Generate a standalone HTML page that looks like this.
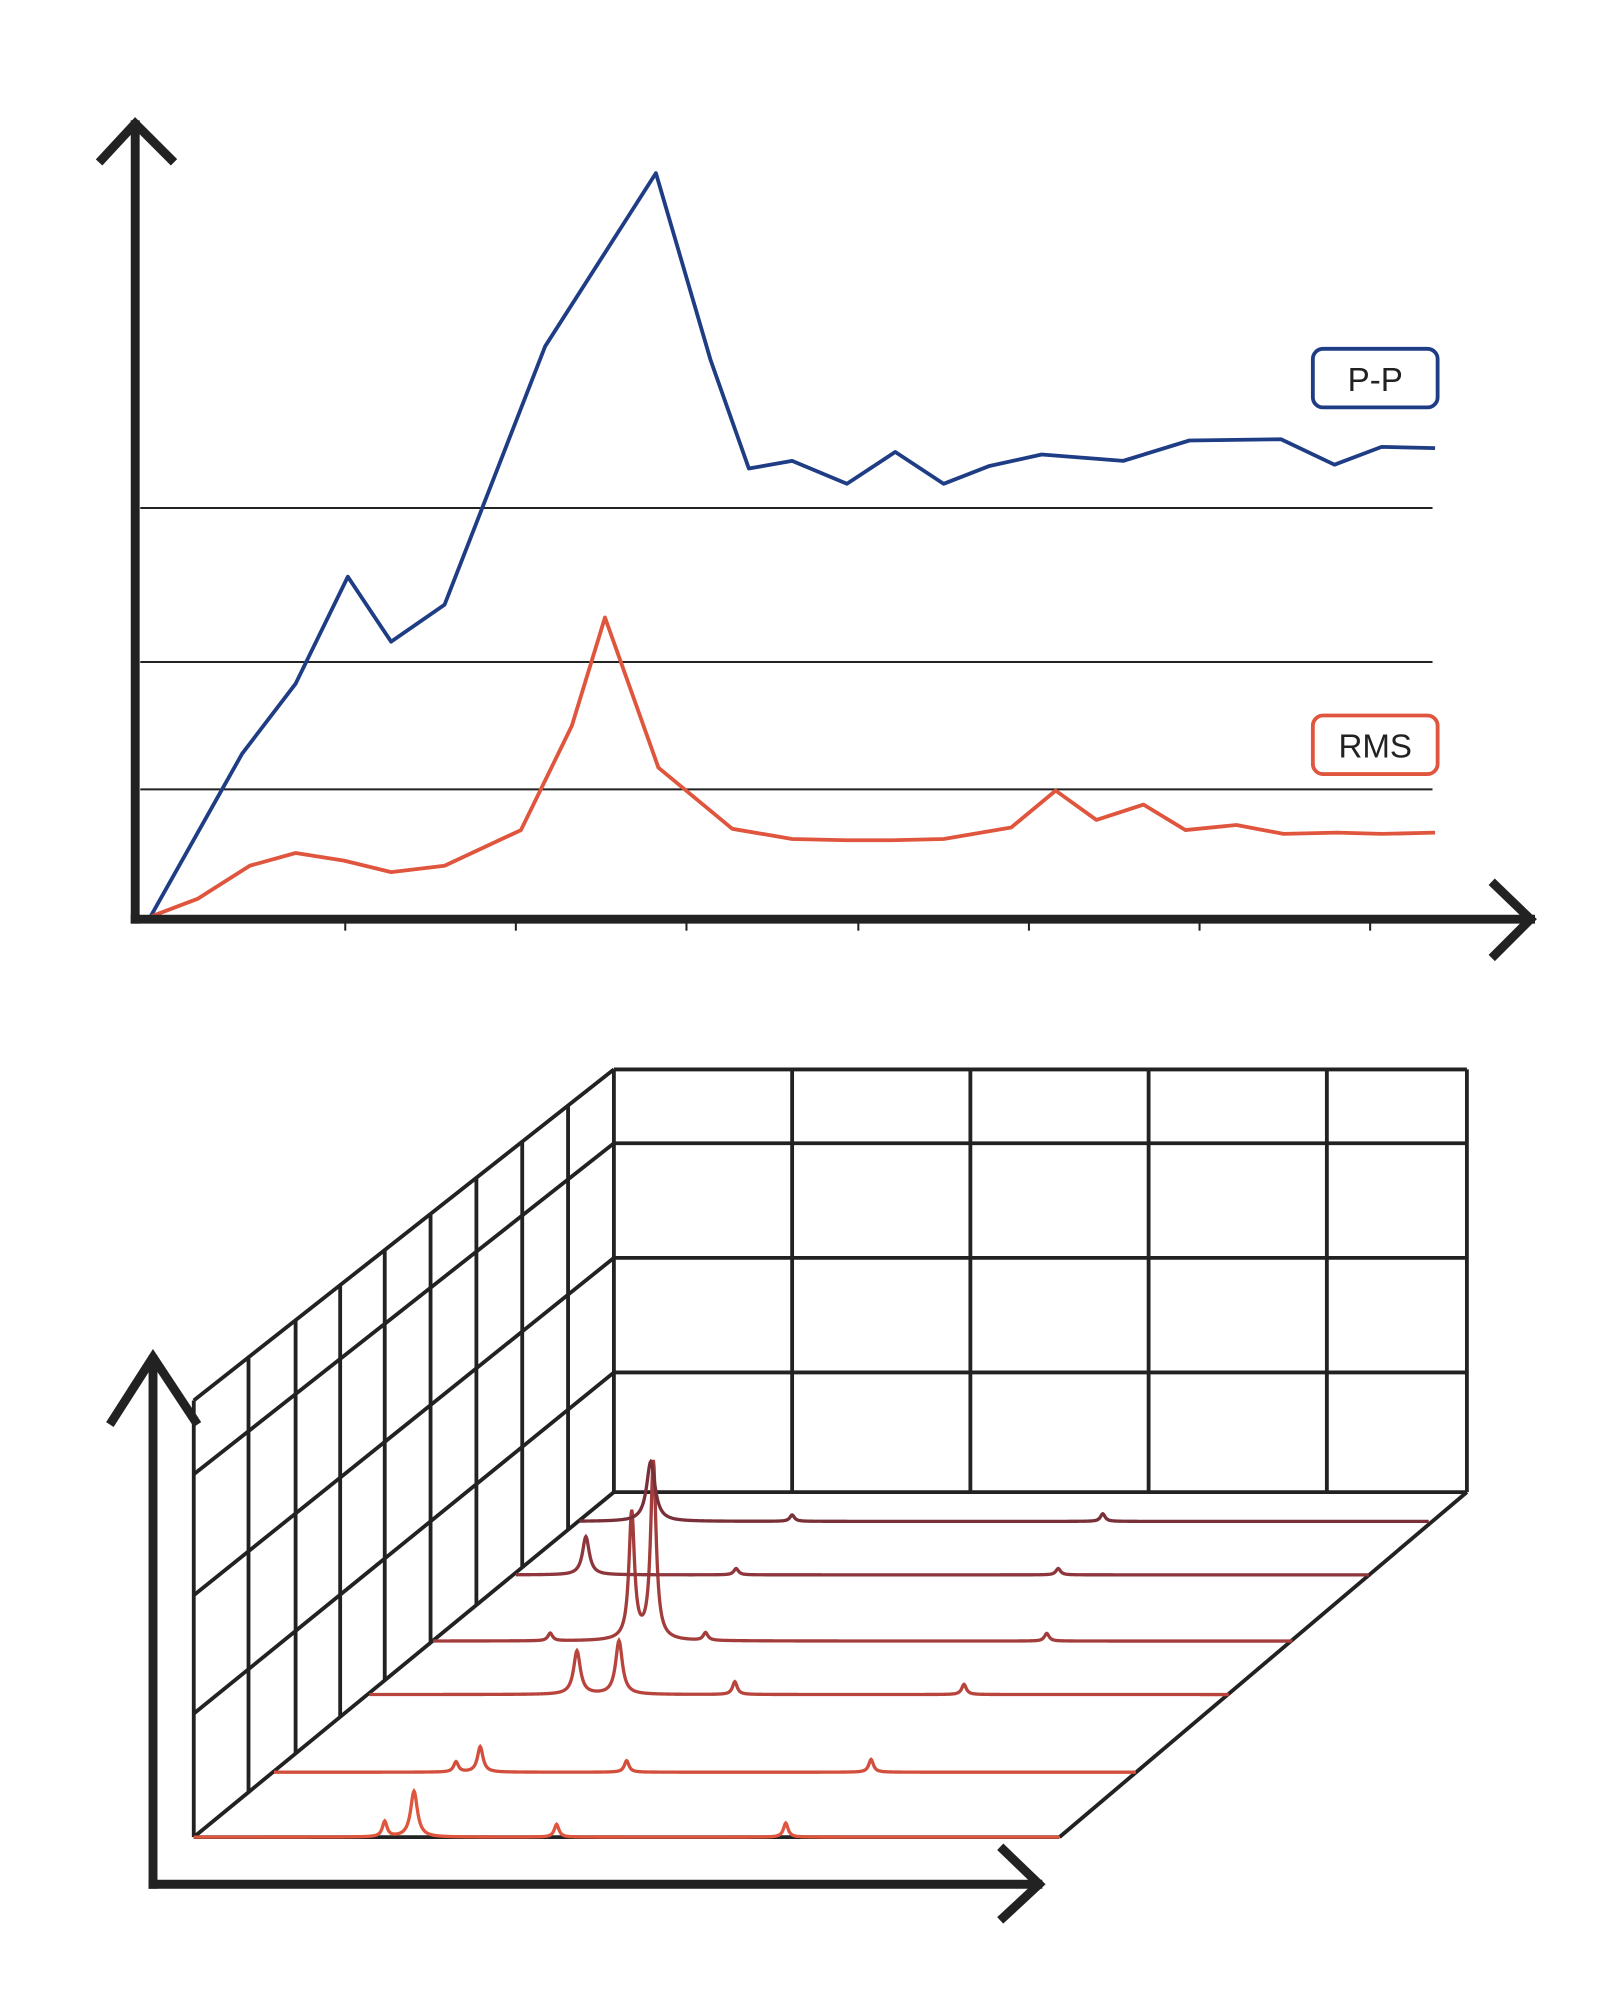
<!DOCTYPE html>
<html><head><meta charset="utf-8"><style>
html,body{margin:0;padding:0;background:#fff}
svg{display:block}
text{font-family:"Liberation Sans",sans-serif}
</style></head><body>
<svg id="s" width="1597" height="1995" viewBox="0 0 1254 1567" xmlns="http://www.w3.org/2000/svg">
<rect width="1254" height="1567" fill="#fff"/>
<g stroke="#222" stroke-width="1.6">
<line x1="110" y1="399" x2="1125" y2="399"/>
<line x1="110" y1="520" x2="1125" y2="520"/>
<line x1="110" y1="620" x2="1125" y2="620"/>
<line x1="271" y1="722" x2="271" y2="731"/><line x1="405" y1="722" x2="405" y2="731"/><line x1="539" y1="722" x2="539" y2="731"/><line x1="674" y1="722" x2="674" y2="731"/><line x1="808" y1="722" x2="808" y2="731"/><line x1="942" y1="722" x2="942" y2="731"/><line x1="1076" y1="722" x2="1076" y2="731"/>
</g>
<polyline fill="none" stroke="#1f3d85" stroke-width="3" stroke-linejoin="round" points="118,720 190,592 232,537 273,453 307,504 349,475 428,272 515,136 558,283 588,368 622,362 665,380 703,355 741,380 777,366 818,357 882,362 934,346 1006,345 1048,365 1085,351 1127,352"/>
<polyline fill="none" stroke="#e0553d" stroke-width="3" stroke-linejoin="round" points="118,720 155,706 196,680 232,670 270,676 307,685 349,680 409,652 449,570 475,485 517,603 575,651 622,659 665,660 700,660 741,659 794,650 829,621 861,644 898,632 931,652 971,648 1008,655 1050,654 1085,655 1127,654"/>
<g fill="none" stroke="#222" stroke-width="7" stroke-linecap="square">
<line x1="106" y1="98" x2="106" y2="722"/>
<polyline points="80,125 106,97 134,125"/>
<line x1="106" y1="722" x2="1202" y2="722"/>
<polyline points="1174,695 1202,722 1174,750"/>
</g>
<rect x="1031" y="274" width="98" height="46" rx="8" fill="#fff" stroke="#1f3d85" stroke-width="3"/>
<text x="1080" y="307" text-anchor="middle" font-size="26" fill="#222">P-P</text>
<rect x="1031" y="562" width="98" height="46" rx="8" fill="#fff" stroke="#e0553d" stroke-width="3"/>
<text x="1080" y="595" text-anchor="middle" font-size="26" fill="#222">RMS</text>
<g id="grid" fill="none" stroke="#222" stroke-width="3"></g>
<g id="spec" fill="none" stroke-width="2.6"></g>
<g fill="none" stroke="#222" stroke-width="7" stroke-linecap="square">
<line x1="120" y1="1068" x2="120" y2="1480"/>
<polyline points="88,1116 120,1066 153,1116"/>
<line x1="120" y1="1480" x2="815" y2="1480"/>
<polyline points="788,1453 816,1480 788,1506"/>
</g>
</svg>
<script>
(function(){
var NS="http://www.w3.org/2000/svg";
function L(g,x1,y1,x2,y2){var l=document.createElementNS(NS,"line");l.setAttribute("x1",x1);l.setAttribute("y1",y1);l.setAttribute("x2",x2);l.setAttribute("y2",y2);g.appendChild(l);}
var g=document.getElementById("grid");
[482,622,762,902,1042,1152].forEach(function(x){L(g,x,840,x,1172);});
[840,898,988,1078,1172].forEach(function(y){L(g,482,y,1152,y);});
function topY(x){return 1100-(x-152)*260/330;}
function botY(x){return 1443-(x-152)*271/330;}
[152,195,232,267,302,338,374,410,446].forEach(function(x){L(g,x,topY(x),x,botY(x));});
L(g,152,1100,482,840);L(g,152,1443,482,1172);
[[898,1158],[988,1253],[1078,1346]].forEach(function(p){L(g,482,p[0],152,p[1]);});
L(g,1152,1172,832,1443);L(g,152,1443,832,1443);
var sp=document.getElementById("spec");
var lines=[
{y:1443,x0:152,x1:832,c:"#e0553d",p:[[302,12,2.2],[325,36,3.2],[437,10,2.2],[617,11,2.2]]},
{y:1392,x0:215,x1:892,c:"#d24f3e",p:[[358,8,2.2],[377,20,2.6],[492,9,2.2],[684,10,2.2]]},
{y:1331,x0:290,x1:965,c:"#b8443d",p:[[453,34,3.2],[486,42,3.2],[577,10,2.2],[757,8,2.2]]},
{y:1289,x0:340,x1:1015,c:"#a23d3c",p:[[432,6,2.2],[496,100,2.6],[513,140,2.6],[554,6,2.2],[822,6,2.2]]},
{y:1237,x0:405,x1:1075,c:"#8e363b",p:[[460,30,3.2],[578,5,2.2],[831,5,2.2]]},
{y:1195,x0:455,x1:1122,c:"#7a3038",p:[[511,47,4],[622,5,2.2],[866,6,2.2]]}
];
lines.forEach(function(o){var d="";for(var x=o.x0;x<=o.x1;x+=0.5){var h=0;o.p.forEach(function(p){var t=(x-p[0])/p[2];h+=p[1]/(1+t*t);});d+=(d?"L":"M")+x+","+(o.y-h).toFixed(2);}
var pa=document.createElementNS(NS,"path");pa.setAttribute("d",d);pa.setAttribute("stroke",o.c);sp.appendChild(pa);});
})();
</script>
</body></html>
